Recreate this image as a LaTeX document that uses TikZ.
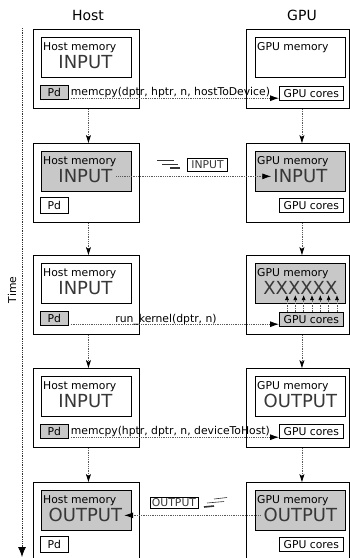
\documentclass[tikz,border=0pt]{standalone}
\usepackage{fontspec}
\setmainfont{DejaVu Sans}
\usetikzlibrary{arrows.meta,calc}
\definecolor{boxgray}{RGB}{200,200,200}
\definecolor{txtgray}{RGB}{55,55,55}
\definecolor{dotgray}{RGB}{90,90,90}
\begin{document}
\begin{tikzpicture}[x=1pt,y=-1pt,
  small/.style={font=\fontsize{10.8}{12}\selectfont},
  outerbox/.style={draw, line width=0.9pt, anchor=north west, inner sep=0pt, minimum height=79pt},
  hout/.style={outerbox, minimum width=106pt},
  gout/.style={outerbox, minimum width=103pt},
  membox/.style={draw, line width=0.7pt, anchor=north west, inner sep=0pt, minimum width=90pt, minimum height=40pt},
  gmembox/.style={membox},
  filled/.style={fill=boxgray},
  pdbox/.style={draw, line width=0.7pt, anchor=north west, inner sep=0pt, minimum width=28pt, minimum height=#1, small},
  corebox/.style={draw, line width=0.7pt, anchor=north west, inner sep=0pt, minimum width=64pt, minimum height=14pt, small},
  memlbl/.style={small, anchor=north west, inner sep=0pt},
  bigtxt/.style={font=\fontsize{18}{20}\selectfont, text=txtgray, inner sep=2pt},
  header/.style={font=\fontsize{14}{16}\selectfont},
  lblbox/.style={draw, line width=0.7pt, small, text=txtgray},
  harrow/.style={densely dotted, dotgray, line width=0.8pt, -{Latex[length=9pt,width=6pt,color=black]}},
  varrow/.style={densely dotted, dotgray, line width=0.8pt, -{Stealth[length=8pt,width=5pt,inset=2pt,color=black]}},
  karrow/.style={densely dotted, dotgray, line width=0.7pt, -{Latex[length=5pt,width=4pt,color=black]}},
  speed/.style={line width=0.6pt, black!80}
]
\useasboundingbox (0,0) rectangle (350,558);
\clip (0,0) rectangle (350,558);

% headers and time axis
\node[header] (hhost) at (88,15) {Host};
\node[header] (hgpu) at (302,15) {GPU};
\coordinate (tstart) at (22,28);
\coordinate (tend) at (22,557);
\draw[densely dotted, black!80, line width=0.8pt, -{Latex[length=10pt,width=8pt,color=black]}] (tstart) -- (tend);
\node[small, rotate=90] (time) at (12,290) {Time};

% ---------- section 1 ----------
\node[hout] (hout1) at (33,29) {};
\node[membox] (hmem1) at (41,37) {};
\node[memlbl] (hml1) at ($(hmem1.north west)+(2,5)$) {Host memory};
\node[bigtxt] (hin1) at ($(hmem1.center)+(-1,5)$) {INPUT};
\node[pdbox=14pt, filled] (hpd1) at (40,85) {Pd};
\node[gout] (gout1) at (246,29) {};
\node[gmembox] (gmem1) at (255,37) {};
\node[memlbl] (gml1) at ($(gmem1.north west)+(2,5)$) {GPU memory};
\node[corebox] (gcore1) at (279,86) {GPU cores};
\coordinate (a1s) at ($(hpd1.south east)+(2,-1.5)$);
\coordinate (a1e) at (gcore1.west |- a1s);
\draw[harrow] (a1s) -- (a1e);
\node[small, anchor=south west, inner sep=0pt] (l1) at ($(a1s)+(0,0)$) {memcpy(dptr, hptr, n, hostToDevice)};

% ---------- section 2 ----------
\node[hout] (hout2) at (33,143) {};
\node[membox, filled] (hmem2) at (41,151) {};
\node[memlbl] (hml2) at ($(hmem2.north west)+(2,5)$) {Host memory};
\node[bigtxt] (hin2) at ($(hmem2.center)+(-1,5)$) {INPUT};
\node[pdbox=16pt] (hpd2) at (40,197) {Pd};
\node[gout] (gout2) at (246,143) {};
\node[gmembox, filled] (gmem2) at (255,151) {};
\node[memlbl] (gml2) at ($(gmem2.north west)+(2,5)$) {GPU memory};
\node[bigtxt] (gin2) at ($(gmem2.center)+(0,5)$) {INPUT};
\node[corebox] (gcore2) at (279,198) {GPU cores};
\draw[harrow, shorten <=2pt] (hin2.east) -- (gin2.west);
\node[lblbox, inner xsep=4pt, inner ysep=2.5pt] (lin) at (207.5,165) {INPUT};
\draw[speed] (157,160) -- (174,160);
\draw[speed] (162,164) -- (178,164);
\draw[speed, line width=1.6pt] (170,168) -- (180,168);

% ---------- section 3 ----------
\node[hout] (hout3) at (33,255) {};
\node[membox] (hmem3) at (41,263) {};
\node[memlbl] (hml3) at ($(hmem3.north west)+(2,5)$) {Host memory};
\node[bigtxt] (hin3) at ($(hmem3.center)+(-1,5)$) {INPUT};
\node[pdbox=14pt, filled] (hpd3) at (40,311) {Pd};
\node[gout] (gout3) at (246,255) {};
\node[gmembox, filled] (gmem3) at (255,263) {};
\node[memlbl] (gml3) at ($(gmem3.north west)+(2,5)$) {GPU memory};
\node[bigtxt] (gx3) at ($(gmem3.center)+(0,5)$) {XXXXXX};
\node[corebox, filled] (gcore3) at (279,312) {GPU cores};
\coordinate (a3s) at ($(hpd3.south east)+(2,-1.5)$);
\coordinate (a3e) at (gcore3.west |- a3s);
\draw[harrow] (a3s) -- (a3e);
\node[small, anchor=south, inner sep=0pt] (l3) at (166,325) {run\_kernel(dptr, n)};
\foreach \i in {0,...,6} {
  \coordinate (kb\i) at (287+8.33*\i, 312);
  \coordinate (kt\i) at (287+8.33*\i, 295);
  \draw[karrow] (kb\i) -- (kt\i);
}

% ---------- section 4 ----------
\node[hout] (hout4) at (33,368) {};
\node[membox] (hmem4) at (41,376) {};
\node[memlbl] (hml4) at ($(hmem4.north west)+(2,5)$) {Host memory};
\node[bigtxt] (hin4) at ($(hmem4.center)+(-1,5)$) {INPUT};
\node[pdbox=14pt, filled] (hpd4) at (40,424) {Pd};
\node[gout] (gout4) at (246,368) {};
\node[gmembox] (gmem4) at (255,376) {};
\node[memlbl] (gml4) at ($(gmem4.north west)+(2,5)$) {GPU memory};
\node[bigtxt] (gout4t) at ($(gmem4.center)+(0,5)$) {OUTPUT};
\node[corebox] (gcore4) at (279,424) {GPU cores};
\coordinate (a4s) at ($(hpd4.south east)+(2,-1.5)$);
\coordinate (a4e) at (gcore4.west |- a4s);
\draw[harrow] (a4s) -- (a4e);
\node[small, anchor=south west, inner sep=0pt] (l4) at (a4s) {memcpy(hptr, dptr, n, deviceToHost)};

% ---------- section 5 ----------
\node[outerbox, minimum width=106pt, minimum height=100pt] (hout5) at (33,482) {};
\node[membox, filled] (hmem5) at (41,490) {};
\node[memlbl] (hml5) at ($(hmem5.north west)+(2,5)$) {Host memory};
\node[bigtxt] (hout5t) at ($(hmem5.center)+(-1,5)$) {OUTPUT};
\node[pdbox=16pt] (hpd5) at (40,536) {Pd};
\node[outerbox, minimum width=103pt, minimum height=100pt] (gout5) at (246,482) {};
\node[gmembox, filled] (gmem5) at (255,490) {};
\node[memlbl] (gml5) at ($(gmem5.north west)+(2,5)$) {GPU memory};
\node[bigtxt] (gout5t) at ($(gmem5.center)+(0,5)$) {OUTPUT};
\node[corebox] (gcore5) at (279,537) {GPU cores};
\draw[harrow, shorten <=1pt] (gout5t.west) -- (hout5t.east);
\node[lblbox, inner xsep=2pt, inner ysep=1.5pt] (lout) at (174,503) {OUTPUT};
\draw[speed] (214,499) -- (227,497.5);
\draw[speed] (207,503) -- (224,501.5);
\draw[speed, line width=1.6pt] (204,507) -- (214,506);

% ---------- vertical connectors ----------
\foreach \a/\b in {1/2,2/3,3/4,4/5} {
  \draw[varrow] ($(hout\a.south)+(2,0)$) -- ($(hout\b.north)+(2,0)$);
  \draw[varrow] ($(gout\a.south)+(4,0)$) -- ($(gout\b.north)+(4,0)$);
}
\end{tikzpicture}
\end{document}
